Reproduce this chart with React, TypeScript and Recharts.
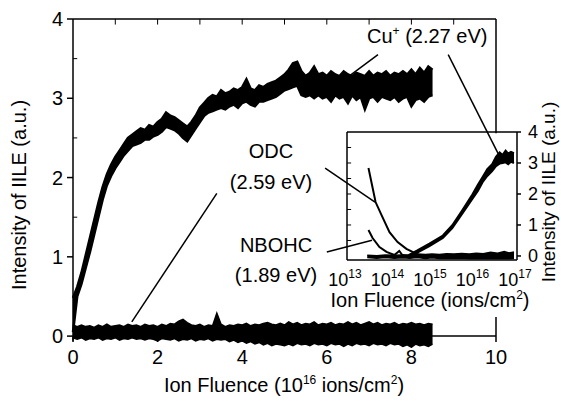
import { Area, ComposedChart, Line, ReferenceLine, XAxis, YAxis } from "recharts";

const FONT = '"Liberation Sans", Arial, sans-serif';

// main panel: fluence in 10^16 ions/cm^2, band edges of the noisy traces
const mainFluence = [
    0, 0.1, 0.2, 0.3, 0.4, 0.5, 0.6, 0.7, 0.8, 0.9, 1, 1.1, 1.2, 1.3, 1.4, 1.5, 1.6, 1.7, 1.8, 1.9,
    2, 2.1, 2.2, 2.3, 2.4, 2.5, 2.6, 2.7, 2.8, 2.9, 3, 3.1, 3.2, 3.3, 3.4, 3.5, 3.6, 3.7, 3.8, 3.9,
    4, 4.1, 4.2, 4.3, 4.4, 4.5, 4.6, 4.7, 4.8, 4.9, 5, 5.1, 5.2, 5.3, 5.4, 5.5, 5.6, 5.7, 5.8, 5.9,
    6, 6.1, 6.2, 6.3, 6.4, 6.5, 6.6, 6.7, 6.8, 6.9, 7, 7.1, 7.2, 7.3, 7.4, 7.5, 7.6, 7.7, 7.8, 7.9,
    8, 8.1, 8.2, 8.3, 8.4, 8.5,
];
const cuLow = [
    0.05, 0.50, 0.66, 0.86, 1.06, 1.28, 1.50, 1.72, 1.90, 2.02,
    2.12, 2.20, 2.28, 2.34, 2.40, 2.42, 2.44, 2.48, 2.48, 2.52,
    2.54, 2.58, 2.64, 2.62, 2.60, 2.56, 2.50, 2.46, 2.54, 2.62,
    2.70, 2.78, 2.82, 2.84, 2.86, 2.88, 2.86, 2.90, 2.92, 2.88,
    2.94, 2.96, 2.92, 2.90, 2.96, 2.96, 2.98, 3.00, 3.02, 3.06,
    3.10, 3.12, 3.14, 3.16, 3.04, 3.02, 3.04, 3.00, 3.04, 3.00,
    3.02, 2.96, 3.04, 3.00, 3.02, 2.94, 3.04, 2.98, 3.02, 2.86,
    3.00, 3.02, 2.96, 3.02, 3.00, 2.98, 3.02, 2.96, 3.00, 3.02,
    2.90, 2.98, 3.00, 2.96, 3.02, 3.04,
];
const cuHigh = [
    0.48, 0.62, 0.80, 1.02, 1.24, 1.46, 1.68, 1.88, 2.04, 2.16,
    2.26, 2.34, 2.42, 2.50, 2.54, 2.58, 2.62, 2.60, 2.66, 2.64,
    2.70, 2.74, 2.82, 2.78, 2.76, 2.72, 2.68, 2.64, 2.70, 2.78,
    2.88, 2.94, 3.00, 3.04, 3.02, 3.10, 3.06, 3.08, 3.12, 3.10,
    3.14, 3.24, 3.12, 3.10, 3.16, 3.14, 3.18, 3.20, 3.22, 3.26,
    3.30, 3.36, 3.44, 3.46, 3.34, 3.28, 3.32, 3.40, 3.30, 3.32,
    3.28, 3.34, 3.30, 3.28, 3.34, 3.30, 3.28, 3.32, 3.30, 3.28,
    3.34, 3.28, 3.32, 3.30, 3.34, 3.28, 3.32, 3.30, 3.34, 3.30,
    3.36, 3.30, 3.38, 3.32, 3.40, 3.36,
];
const bgLow = [
    -0.02, -0.04, -0.02, -0.05, -0.03, -0.04, -0.02, -0.05, -0.03, -0.04,
    -0.02, -0.05, -0.03, -0.04, -0.02, -0.04, -0.03, -0.05, -0.03, -0.04,
    -0.06, -0.03, -0.04, -0.05, -0.03, -0.06, -0.04, -0.05, -0.03, -0.06,
    -0.04, -0.05, -0.03, -0.06, -0.04, -0.05, -0.04, -0.07, -0.05, -0.08,
    -0.06, -0.09, -0.07, -0.10, -0.08, -0.11, -0.09, -0.12, -0.10, -0.11,
    -0.12, -0.10, -0.12, -0.09, -0.11, -0.10, -0.12, -0.09, -0.11, -0.10,
    -0.12, -0.09, -0.11, -0.10, -0.13, -0.10, -0.12, -0.09, -0.11, -0.10,
    -0.12, -0.09, -0.11, -0.10, -0.12, -0.09, -0.11, -0.10, -0.13, -0.11,
    -0.14, -0.10, -0.12, -0.11, -0.13, -0.10,
];
const bgHigh = [
    0.14, 0.12, 0.14, 0.12, 0.13, 0.11, 0.14, 0.12, 0.15, 0.12,
    0.13, 0.14, 0.12, 0.15, 0.13, 0.14, 0.12, 0.15, 0.13, 0.14,
    0.12, 0.15, 0.13, 0.16, 0.15, 0.19, 0.21, 0.17, 0.14, 0.13,
    0.15, 0.12, 0.14, 0.13, 0.29, 0.15, 0.12, 0.14, 0.13, 0.15,
    0.14, 0.16, 0.13, 0.15, 0.14, 0.16, 0.17, 0.15, 0.14, 0.16,
    0.14, 0.18, 0.15, 0.17, 0.14, 0.16, 0.15, 0.18, 0.14, 0.16,
    0.15, 0.17, 0.14, 0.16, 0.15, 0.18, 0.15, 0.17, 0.14, 0.16,
    0.18, 0.15, 0.17, 0.14, 0.16, 0.15, 0.17, 0.14, 0.16, 0.15,
    0.17, 0.15, 0.16, 0.14, 0.16, 0.15,
];
const mainXTicks = [0, 2, 4, 6, 8, 10];
const mainYTicks = [0, 1, 2, 3, 4];
const mainTopTicks = [1, 2, 3, 4, 5, 6, 7, 8, 9];
const mainMinorY = [0.5, 1.5, 2.5, 3.5];

// inset: log fluence in ions/cm^2
const odcFluence = [3.2e13, 4.7e13, 6.5e13, 1e14, 1.55e14, 2.5e14, 3.9e14, 6e14];
const odcInset = [2.84, 1.74, 1.32, 0.77, 0.45, 0.23, 0.10, -0.03];
const nbohcFluence = [3.2e13, 4.0e13, 5.8e13, 8.5e13, 1.3e14, 1.7e14, 2.0e14, 3.3e14];
const nbohcInset = [0.84, 0.58, 0.29, 0.13, 0.03, 0.16, 0.03, -0.03];
const cuInsetFluence = [2.8e14, 4.4e14, 8.7e14, 1.8e15, 3.0e15, 5.2e15, 8.9e15, 1.2e16, 1.55e16, 2.0e16, 2.6e16, 3.2e16, 3.9e16, 4.6e16, 5.4e16, 6.2e16, 7.2e16, 8.5e16];
const cuInsetLow = [-0.03, 0.10, 0.32, 0.58, 0.90, 1.37, 1.84, 2.10, 2.38, 2.58, 2.74, 2.90, 2.98, 3.00, 3.02, 2.96, 3.04, 3.00];
const cuInsetHigh = [0.03, 0.17, 0.40, 0.66, 0.99, 1.48, 1.98, 2.30, 2.55, 2.80, 2.96, 3.20, 3.34, 3.26, 3.40, 3.30, 3.36, 3.32];
const bgInsetFluence = [3e13, 5e13, 8e13, 1.3e14, 2e14, 3e14, 4.5e14, 7e14, 1e15, 1.5e15, 2.2e15, 3.3e15, 5e15, 7.5e15, 1.1e16, 1.6e16, 2.4e16, 3.5e16, 5e16, 6.5e16, 8.5e16];
const bgInsetLow = [-0.05, -0.07, -0.05, -0.07, -0.06, -0.07, -0.05, -0.08, -0.06, -0.08, -0.07, -0.08, -0.07, -0.09, -0.08, -0.09, -0.08, -0.09, -0.08, -0.09, -0.08];
const bgInsetHigh = [0.02, 0.01, 0.03, 0.02, 0.03, 0.04, 0.06, 0.05, 0.06, 0.05, 0.07, 0.06, 0.08, 0.06, 0.09, 0.07, 0.12, 0.09, 0.14, 0.10, 0.13];
const insetXTicks = [1e13, 1e14, 1e15, 1e16, 1e17];
const insetYTicks = [0, 1, 2, 3, 4];
const insetMinorY = [0.5, 1, 1.5, 2, 2.5, 3, 3.5];

const mainRows = mainFluence.map((x, i) => ({ x, cu: [cuLow[i], cuHigh[i]], bg: [bgLow[i], bgHigh[i]] }));
const odcRows = odcFluence.map((f, i) => ({ f, v: odcInset[i] }));
const nbohcRows = nbohcFluence.map((f, i) => ({ f, v: nbohcInset[i] }));
const cuInsetRows = cuInsetFluence.map((f, i) => ({ f, v: [cuInsetLow[i], cuInsetHigh[i]] }));
const bgInsetRows = bgInsetFluence.map((f, i) => ({ f, v: [bgInsetLow[i], bgInsetHigh[i]] }));

const black = "#000";

const MainXTick = (props: any) => {
    const { x, y, payload } = props;
    return (
        <g>
            <line x1={x} x2={x} y1={y - 14} y2={y - 8} stroke={black} strokeWidth={1.5} />
            <text x={x} y={y + 14} textAnchor="middle" fontSize={20} fill={black} fontFamily={FONT}>
                {payload.value}
            </text>
        </g>
    );
};

const InsetXTick = (props: any) => {
    const { x, y, payload } = props;
    const exp = Math.round(Math.log10(payload.value));
    return (
        <text x={x - 2} y={y + 15} textAnchor="middle" fontSize={18} fill={black} fontFamily={FONT}>
            10<tspan dy={-8} fontSize={12}>{exp}</tspan>
        </text>
    );
};

const seg = (x1: number, y1: number, x2: number, y2: number, w = 1.5, yAxisId?: string) => (
    <ReferenceLine
        key={`${x1}-${y1}-${x2}-${y2}`}
        segment={[{ x: x1, y: y1 }, { x: x2, y: y2 }]}
        stroke={black}
        strokeWidth={w}
        ifOverflow="visible"
        {...(yAxisId ? { yAxisId } : {})}
    />
);

export default function App() {
    return (
        <div style={{ position: "absolute", left: 0, top: 0, width: 561, height: 401, background: "#fff", fontFamily: FONT }}>
            <div style={{ position: "absolute", left: 0, top: 0 }}>
                <ComposedChart width={561} height={401} data={mainRows} margin={{ top: 19, right: 65, bottom: 23, left: 0 }}>
                    <XAxis dataKey="x" type="number" domain={[0, 10]} ticks={mainXTicks} interval={0}
                        axisLine={false} tickLine={false} tickSize={0} tickMargin={2} height={30} tick={<MainXTick />} />
                    <YAxis type="number" domain={[-0.15, 4]} allowDataOverflow ticks={mainYTicks} interval={0} width={73}
                        axisLine={false} tickSize={6} tickMargin={4} tickLine={{ stroke: black, strokeWidth: 1.5 }}
                        tick={{ fontSize: 20, fill: black, fontFamily: FONT }} />
                    {/* frame: left, bottom, top, right (right side interrupted by the inset) */}
                    {seg(0, -0.06, 0, 4)}
                    {seg(0, 0, 10, 0)}
                    {seg(0, 4, 10, 4)}
                    {seg(10, 4, 10, 2.56)}
                    {seg(10, 0.24, 10, 0)}
                    {mainTopTicks.map((t) => seg(t, 4, t, 3.93, 1))}
                    {mainMinorY.map((t) => seg(0, t, 0.1, t, 1))}
                    <Area dataKey="cu" type="linear" stroke={black} strokeWidth={2.5} fill={black} fillOpacity={1}
                        dot={false} activeDot={false} isAnimationActive={false} />
                    <Area dataKey="bg" type="linear" stroke={black} strokeWidth={1.5} fill={black} fillOpacity={1}
                        dot={false} activeDot={false} isAnimationActive={false} />
                    {/* leader lines */}
                    {seg(7.21, 3.55, 6.48, 3.26, 1.5)}
                    {seg(8.87, 3.55, 10.09, 2.26, 1.5)}
                    {seg(3.4, 1.8, 1.39, 0.18, 1.5)}
                    {seg(5.96, 2.12, 7.14, 1.69, 1.5)}
                    {seg(6.0, 1.06, 7.07, 1.21, 1.5)}
                </ComposedChart>
            </div>
            <div style={{ position: "absolute", left: 0, top: 0 }}>
                <ComposedChart width={561} height={401} margin={{ top: 132, right: 0, bottom: 111, left: 347 }}>
                    <XAxis dataKey="f" type="number" scale="log" domain={[1e13, 1e17]} allowDataOverflow ticks={insetXTicks}
                        interval={0} height={30} axisLine={{ stroke: black, strokeWidth: 1.5 }} tickLine={false}
                        tickSize={0} tickMargin={11} tick={<InsetXTick />} />
                    <YAxis yAxisId="r" orientation="right" type="number" domain={[-0.13, 4]} allowDataOverflow
                        ticks={insetYTicks} interval={0} width={44} tickSize={4} tickMargin={7}
                        axisLine={{ stroke: black, strokeWidth: 1.5 }} tickLine={{ stroke: black, strokeWidth: 1.5 }}
                        tick={{ fontSize: 18, fill: black, fontFamily: FONT }} />
                    {seg(1e13, -0.13, 1e13, 4, 1.5, "r")}
                    {seg(1e13, 4, 1e17, 4, 1.5, "r")}
                    {insetMinorY.map((t) => seg(1e13, t, 1.25e13, t, 1, "r"))}
                    <Area yAxisId="r" data={bgInsetRows} dataKey="v" type="linear" stroke={black} strokeWidth={1.5}
                        fill={black} fillOpacity={1} dot={false} activeDot={false} isAnimationActive={false} />
                    <Area yAxisId="r" data={cuInsetRows} dataKey="v" type="linear" stroke={black} strokeWidth={2}
                        fill={black} fillOpacity={1} dot={false} activeDot={false} isAnimationActive={false} />
                    <Line yAxisId="r" data={odcRows} dataKey="v" type="linear" stroke={black} strokeWidth={2}
                        dot={false} activeDot={false} isAnimationActive={false} />
                    <Line yAxisId="r" data={nbohcRows} dataKey="v" type="linear" stroke={black} strokeWidth={2}
                        dot={false} activeDot={false} isAnimationActive={false} />
                </ComposedChart>
            </div>
            <svg width={561} height={401} style={{ position: "absolute", left: 0, top: 0, pointerEvents: "none" }}
                fontFamily={FONT} fill={black}>
                <text x={367} y={43} fontSize={20}>
                    Cu<tspan dy={-8} fontSize={12}>+</tspan><tspan dy={8}> (2.27 eV)</tspan>
                </text>
                <text x={271} y={158} fontSize={20} textAnchor="middle">ODC</text>
                <text x={271} y={189} fontSize={20} textAnchor="middle">(2.59 eV)</text>
                <text x={276} y={252} fontSize={20} textAnchor="middle">NBOHC</text>
                <text x={276} y={282} fontSize={20} textAnchor="middle">(1.89 eV)</text>
                <text x={430} y={307} fontSize={20} textAnchor="middle">
                    Ion Fluence (ions/cm<tspan dy={-8} fontSize={12}>2</tspan><tspan dy={8}>)</tspan>
                </text>
                <text x={284} y={392} fontSize={20} textAnchor="middle">
                    Ion Fluence (10<tspan dy={-8} fontSize={12}>16</tspan><tspan dy={8}> ions/cm</tspan>
                    <tspan dy={-8} fontSize={12}>2</tspan><tspan dy={8}>)</tspan>
                </text>
                <text x={26} y={195} fontSize={20} textAnchor="middle" transform="rotate(-90 26 195)">
                    Intensity of IILE (a.u.)
                </text>
                <text x={555} y={192} fontSize={19} textAnchor="middle" transform="rotate(-90 555 192)">
                    Intensity of IILE (a.u.)
                </text>
            </svg>
        </div>
    );
}
